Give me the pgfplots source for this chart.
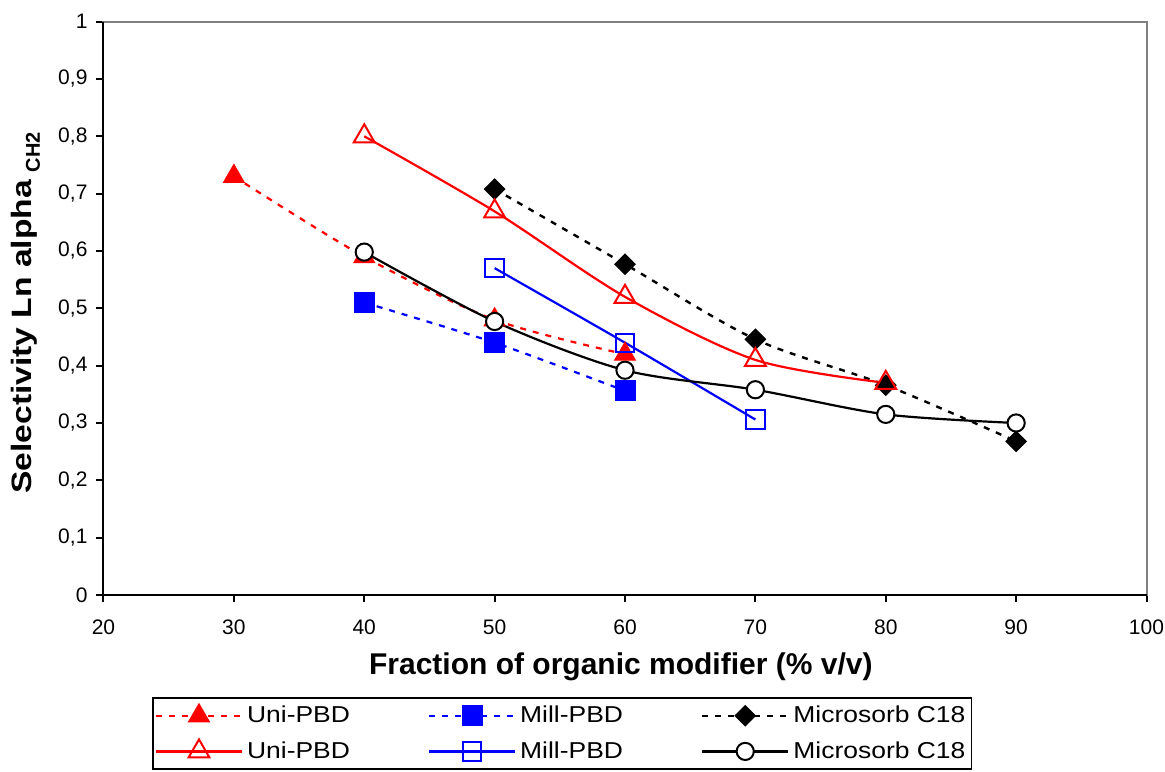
\documentclass[border=0pt]{standalone}
\usepackage{pgfplots}
\pgfplotsset{compat=1.18}
\usepackage{fontspec}
\setmainfont{Liberation Sans}
\usepackage{graphicx}

\definecolor{exred}{RGB}{255,0,0}
\definecolor{exblue}{RGB}{0,0,255}
\definecolor{frame}{RGB}{128,128,128}

% slightly widened legend text
\newcommand{\lgd}[1]{\scalebox{1.15}[1]{#1}}

\begin{document}
\begin{tikzpicture}
\begin{axis}[
  at={(0,0)}, anchor=south west,
  scale only axis, width=521.5pt, height=286.7pt,
  xmin=20, xmax=100, ymin=0, ymax=1,
  xtick={20,30,40,50,60,70,80,90,100},
  ytick={0,0.1,0.2,0.3,0.4,0.5,0.6,0.7,0.8,0.9,1},
  xtick pos=bottom, ytick pos=left,
  tick align=outside,
  major tick length=3.5pt,
  every tick/.style={black, line width=1pt},
  axis line style={draw=frame, line width=1pt},
  /pgf/number format/assume math mode=true,
  /pgf/number format/use comma,
  /pgf/number format/fixed,
  /pgf/number format/precision=1,
  tick label style={font=\fontsize{10.5}{12}\selectfont},
  xticklabel style={yshift=-5.5pt},
  yticklabel style={xshift=-1pt},
  xlabel={\bfseries Fraction of organic modifier (\% v/v)},
  xlabel style={font=\fontsize{15}{17}\selectfont, at={(axis description cs:0.496,-0.1395)}, anchor=base},
  ylabel={\scalebox{1.2}[1]{\bfseries Selectivity Ln alpha} \raisebox{-4pt}{\fontsize{10}{12}\selectfont\bfseries CH2}},
  ylabel style={font=\fontsize{14}{16}\selectfont, at={(axis description cs:-0.0686,0.492)}, anchor=base, rotate=0},
  clip=false,
  legend columns=3,
  legend cell align=left,
  legend style={at={(axis description cs:0.0465,-0.1779)}, anchor=north west,
    draw=black, line width=0.9pt, font=\fontsize{11.5}{13}\selectfont,
    inner xsep=1pt, inner ysep=2pt,
    /tikz/row sep=4pt,
    /tikz/every even column/.append style={column sep=37pt}},
  legend image code/.code={\draw[mark repeat=2,mark phase=2] plot coordinates {(0pt,0pt) (21.5pt,0pt) (43pt,0pt)};},
]

% dotted series (filled markers)
\addplot[exred, line width=1.1pt, dash pattern=on 3pt off 3.5pt, smooth,
  mark=triangle*, mark size=6pt, mark options={solid, fill=exred, draw=exred, line width=0.5pt}]
  coordinates {(30,0.73) (40,0.59) (50,0.48) (60,0.42)};
\addlegendentry{\lgd{Uni-PBD}}

\addplot[exblue, line width=1.1pt, dash pattern=on 3pt off 3.5pt, smooth,
  mark=square*, mark size=5pt, mark options={solid, fill=exblue, draw=exblue, line width=0.5pt}]
  coordinates {(40,0.51) (50,0.44) (60,0.356)};
\addlegendentry{\lgd{Mill-PBD}}

\addplot[black, line width=1.2pt, dash pattern=on 3pt off 3.5pt, smooth,
  mark=square*, mark size=3.6pt, mark options={solid, rotate=45, fill=black, draw=black, line width=0.5pt}]
  coordinates {(50,0.708) (60,0.577) (70,0.446) (80,0.366) (90,0.268)};
\addlegendentry{\lgd{Microsorb C18}}

% solid series (open markers)
\addplot[exred, line width=1.1pt, smooth,
  mark=triangle, mark size=6pt, mark options={solid, draw=exred, fill=none, line width=1pt}]
  coordinates {(40,0.80) (50,0.669) (60,0.52) (70,0.41) (80,0.37)};
\addlegendentry{\lgd{Uni-PBD}}

\addplot[exblue, line width=1.1pt, smooth,
  mark=square, mark size=4.6pt, mark options={solid, draw=exblue, fill=none, line width=1pt}]
  coordinates {(50,0.57) (60,0.44) (70,0.306)};
\addlegendentry{\lgd{Mill-PBD}}

\addplot[black, line width=1.1pt, smooth,
  mark=*, mark size=4.3pt, mark options={solid, draw=black, fill=white, line width=1pt}]
  coordinates {(40,0.598) (50,0.477) (60,0.392) (70,0.358) (80,0.315) (90,0.30)};
\addlegendentry{\lgd{Microsorb C18}}

% black value axes on the left and bottom
\draw[black, line width=1pt] (rel axis cs:0,1) -- (rel axis cs:0,0) -- (rel axis cs:1,0);
\end{axis}
\pgfresetboundingbox
\useasboundingbox (-51.75pt,-88pt) rectangle (530.75pt,297.5pt);
\end{tikzpicture}
\end{document}
